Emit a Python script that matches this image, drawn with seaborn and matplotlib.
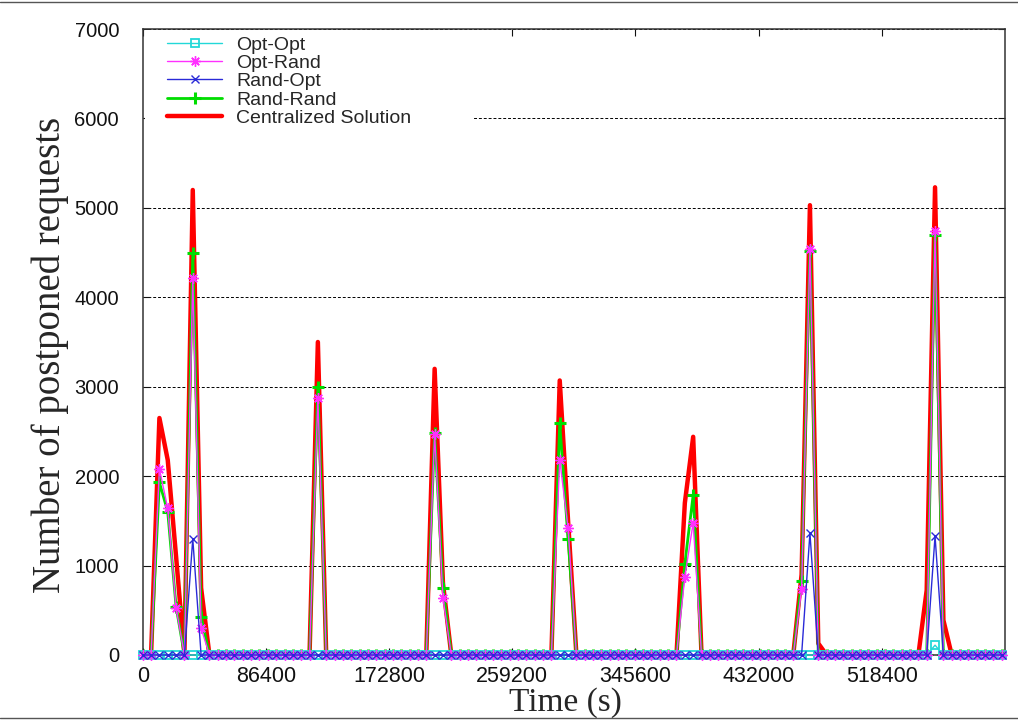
import numpy as np
import pandas as pd
import matplotlib
matplotlib.use("Agg")
import matplotlib.pyplot as plt
from matplotlib.lines import Line2D
from matplotlib.patches import Rectangle
import seaborn as sns

# ---------------- data ----------------
step_s = 5850          # sampling interval (s)
n_samples = 104        # number of samples over the week

series_names = ["Opt-Opt", "Opt-Rand", "Rand-Opt", "Rand-Rand", "Centralized Solution"]

# non-zero samples {sample index: postponed requests}; every other sample is 0
opt_opt_nonzero = {95: 110}
opt_rand_nonzero = {2: 2080, 3: 1640, 4: 525, 6: 4220, 7: 300,
                    21: 2870, 35: 2470, 36: 640, 50: 2185, 51: 1420,
                    65: 875, 66: 1480, 79: 735, 80: 4540, 95: 4740}
rand_opt_nonzero = {6: 1300, 80: 1365, 95: 1330}
rand_rand_nonzero = {2: 1930, 3: 1600, 4: 540, 6: 4490, 7: 430,
                     21: 3000, 35: 2480, 36: 750, 50: 2590, 51: 1300,
                     65: 1020, 66: 1790, 79: 830, 80: 4520, 95: 4700}
centralized_nonzero = {2: 2650, 3: 2180, 4: 1100, 6: 5200, 7: 750,
                       21: 3500, 35: 3200, 36: 800, 50: 3070, 51: 1500,
                       65: 1700, 66: 2440, 79: 900, 80: 5030, 81: 130,
                       94: 725, 95: 5230, 96: 390}

x_ticks = [0, 86400, 172800, 259200, 345600, 432000, 518400]
y_ticks = [0, 1000, 2000, 3000, 4000, 5000, 6000, 7000]

time_s = np.arange(n_samples) * step_s


def full_series(nonzero):
    vals = np.zeros(n_samples)
    for k, v in nonzero.items():
        vals[k] = v
    return vals


values = {
    "Opt-Opt": full_series(opt_opt_nonzero),
    "Opt-Rand": full_series(opt_rand_nonzero),
    "Rand-Opt": full_series(rand_opt_nonzero),
    "Rand-Rand": full_series(rand_rand_nonzero),
    "Centralized Solution": full_series(centralized_nonzero),
}

df = pd.concat([pd.DataFrame({"time": time_s, "requests": values[n], "series": n})
                for n in series_names], ignore_index=True)

# ---------------- style ----------------
sns.set_theme(style="white")
plt.rcParams['font.family'] = ['Liberation Sans', 'DejaVu Sans']

fig = plt.figure(figsize=(10.18, 7.22), dpi=100)
ax = fig.add_axes([0.1402, 0.0928, 0.8470, 0.8670])

styles = {
    "Centralized Solution": dict(color="#ff0000", lw=3.2, zorder=2.0),
    "Rand-Rand": dict(color="#00dd00", lw=2.0, marker="+", ms=8, mew=2.2,
                      mec="#00dd00", zorder=2.1),
    "Opt-Opt": dict(color="#22d8d8", lw=1.0, marker="s", ms=6.2, mew=1.3,
                    mec="#22d8d8", mfc="none", zorder=2.2, clip_on=False),
    "Opt-Rand": dict(color="#ff30ff", lw=1.0, marker=(8, 2, 0), ms=7.5, mew=1.0,
                     mec="#ff30ff", zorder=2.3, clip_on=False),
    "Rand-Opt": dict(color="#2a2ad8", lw=1.0, marker="x", ms=6, mew=1.0,
                     mec="#2a2ad8", zorder=2.4, clip_on=False),
}

for name in ["Centralized Solution", "Rand-Rand", "Opt-Opt", "Opt-Rand", "Rand-Opt"]:
    sub = df[df["series"] == name]
    sns.lineplot(data=sub, x="time", y="requests", ax=ax, label=name,
                 errorbar=None, sort=False, **styles[name])

ax.set_xlim(0, 604800)
ax.set_ylim(0, 7000)
ax.set_xticks(x_ticks)
ax.set_xticklabels([str(v) for v in x_ticks])
ax.set_yticks(y_ticks)
ax.set_yticklabels([str(v) for v in y_ticks])

ax.tick_params(axis="x", direction="in", length=5, width=0.8, top=True, bottom=True,
               labelsize=15.5, pad=8, colors="#111111")
ax.tick_params(axis="y", direction="in", length=5, width=0.8, left=True, right=True,
               labelsize=14.5, pad=17, colors="#111111")

for s in ax.spines.values():
    s.set_color("#333333")
    s.set_linewidth(1.1)
    s.set_zorder(2.15)

# horizontal dotted grid
ax.set_axisbelow(True)
ax.yaxis.grid(True, color="black", linestyle=(0, (3, 2)), linewidth=0.7)
ax.xaxis.grid(False)

# white box behind the legend (hides the grid there)
ax.add_patch(Rectangle((0.003, 0.823), 0.38, 0.175, transform=ax.transAxes,
                       facecolor="white", edgecolor="none", zorder=1))

ax.set_xlabel("Time (s)", family=["Liberation Serif", "DejaVu Serif"], fontsize=24,
              va="baseline")
ax.set_ylabel("Number of postponed requests", family=["Liberation Serif", "DejaVu Serif"], fontsize=28)
ax.xaxis.set_label_coords(0.49, -0.0895)   # baseline at ~711 px
ax.yaxis.set_label_coords(-0.086, 0.48)

handles, labels = ax.get_legend_handles_labels()
hmap = dict(zip(labels, handles))
leg = ax.legend([hmap[n] for n in series_names], series_names,
                loc="upper left", bbox_to_anchor=(0.028, 0.989),
                frameon=False, fontsize=14, handlelength=2.85,
                handletextpad=0.72, labelspacing=0.04, borderpad=0,
                borderaxespad=0, numpoints=1)
leg.set_zorder(5)

# page border lines of the original figure
fig.add_artist(Line2D([0, 1], [0.997, 0.997], transform=fig.transFigure,
                      color="#555555", lw=1.0))
fig.add_artist(Line2D([0, 1], [0.0055, 0.0055], transform=fig.transFigure,
                      color="#555555", lw=1.0))

fig.savefig("out.png", dpi=100, facecolor="white")
